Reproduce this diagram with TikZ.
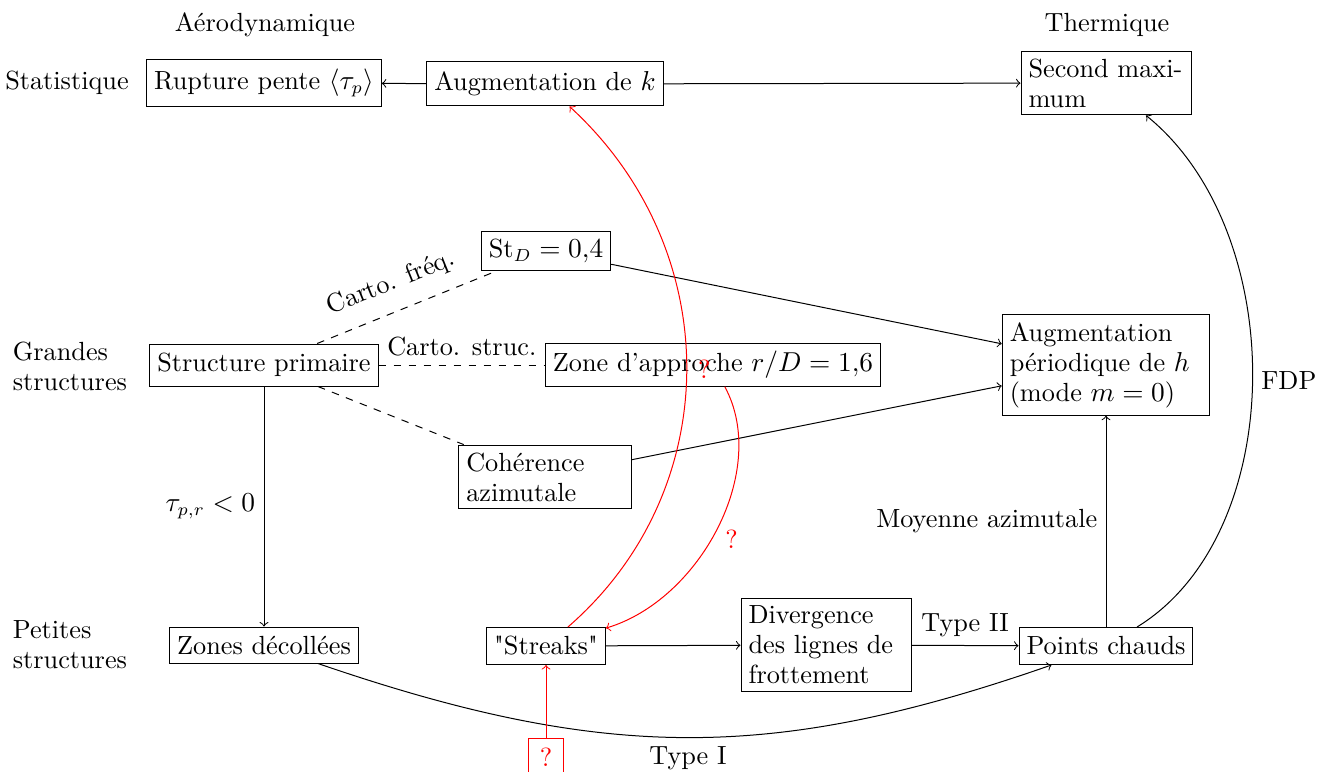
\documentclass[tikz,border=0pt]{standalone}
\usepackage{fontspec}
\newfontfamily\qfont{lmroman10-regular.otf}
\newcommand{\sq}{{\qfont\symbol{34}}}
\begin{document}
\begin{tikzpicture}[x=0.4pt,y=0.4pt,
  font=\fontsize{10.5}{12}\selectfont,
  box/.style={draw, inner sep=3pt},
  qcol/.style={red}]
\useasboundingbox (0,0) rectangle (1325,-772);
% headers
\node (haero) at (265,-25) {Aérodynamique};
\node (htherm) at (1107,-25) {Thermique};
\node (hstat) at (67,-83) {Statistique};
\node[anchor=west, align=left] (hgrand) at (4,-366) {Grandes\\structures};
\node[anchor=west, align=left] (hpetit) at (4,-645) {Petites\\structures};
% boxes
\node[box, minimum width=90pt, minimum height=18.8pt] (rupt) at (264,-83) {Rupture pente $\langle\tau_p\rangle$};
\node[box, minimum width=89.2pt, minimum height=17.6pt] (augk) at (545,-84) {Augmentation de $k$};
\node[box, text width=62pt, align=left] (secm) at (1106,-83) {Second maxi-\\mum};
\node[box, minimum width=48.8pt, minimum height=15.2pt] (std) at (546,-251) {$\mathrm{St}_D = 0{,}4$};
\node[box, minimum width=85.6pt, minimum height=16.8pt] (sp) at (264,-365) {Structure primaire};
\node[box, minimum width=125.2pt, minimum height=16.8pt] (zone) at (713,-365) {Zone d'approche $r/D = 1{,}6$};
\node[box, text width=77pt, align=left] (augp) at (1106,-365) {Augmentation\\périodique de $h$\\(mode $m = 0$)};
\node[box, text width=63pt, align=left] (coh) at (545,-477) {Cohérence\\azimutale};
\node[box, minimum width=74pt, minimum height=14.4pt] (zd) at (264,-645) {Zones décollées};
\node[box, minimum width=45.6pt, minimum height=14.8pt] (str) at (546,-646) {\sq Streaks\sq};
\node[box, text width=62pt, align=left] (div) at (826,-645) {Divergence\\des lignes de\\frottement};
\node[box, minimum width=68.4pt, minimum height=14.8pt] (pc) at (1106,-646) {Points chauds};
\node[box, qcol, minimum width=14pt, minimum height=15.2pt] (qb) at (546,-757) {?};
% black connectors
\draw[->] (augk) -- (rupt);
\draw[->] (augk) -- (secm);
\draw[->] (std) -- (augp);
\draw[->] (coh) -- (augp);
\draw[dashed] (sp) -- node[pos=0.47, sloped, above=3pt] {Carto. fréq.} (std);
\draw[dashed] (sp) -- node[above] {Carto. struc.} (zone);
\draw[dashed] (sp) -- (coh);
\draw[->] (sp) -- node[left] {$\tau_{p,r} < 0$} (zd);
\draw[->] (str) -- (div);
\draw[->] (div) -- node[above] {Type II} (pc);
\draw[->] (pc) -- node[left] {Moyenne azimutale} (augp);
\draw[->] (zd) .. controls (605,-762) and (773,-762) .. node[below] {Type I} (pc);
\draw[->] (pc) .. controls (1289,-534) and (1290,-232) .. node[right] {FDP} (secm);
% red connectors
\draw[->, qcol] (str) .. controls (726,-490) and (726,-250) .. node[pos=0.5, right=1pt] {?} (augk);
\draw[->, qcol] (zone) .. controls (770,-470) and (700,-600) .. node[pos=0.54, right=2pt] {?} (str);
\draw[->, qcol] (qb) -- (str);
\end{tikzpicture}
\end{document}
